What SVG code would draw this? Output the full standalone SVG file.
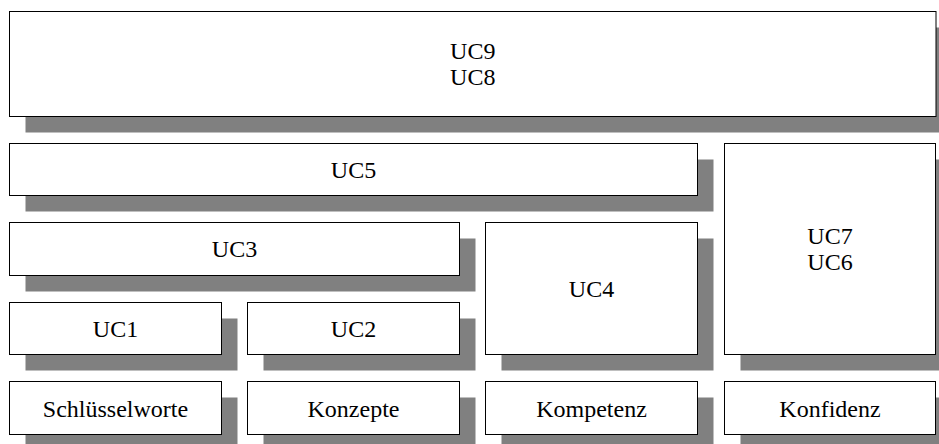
<svg xmlns="http://www.w3.org/2000/svg" width="939" height="444" viewBox="0 0 939 444">
<style>
.sh{fill:#808080;stroke:none}
.bx{fill:#ffffff;stroke:#000000;stroke-width:1}
.t{font-family:"Liberation Serif",Tinos,"Times New Roman",Times,"Nimbus Roman","Noto Serif","DejaVu Serif",serif;font-size:24px;fill:#000000;text-anchor:middle}
</style>
<rect width="939" height="444" fill="#ffffff"/>
<g id="shadows">
<rect class="sh" x="25.5" y="27.5" width="926.5" height="105"/>
<rect class="sh" x="25.5" y="159.5" width="688" height="52"/>
<rect class="sh" x="740.5" y="159.5" width="211" height="211"/>
<rect class="sh" x="25.5" y="238.5" width="450" height="53"/>
<rect class="sh" x="501.5" y="238.5" width="212" height="132"/>
<rect class="sh" x="25.5" y="318.5" width="212" height="52"/>
<rect class="sh" x="263.5" y="318.5" width="212" height="52"/>
<rect class="sh" x="25.5" y="397.5" width="212" height="53"/>
<rect class="sh" x="263.5" y="397.5" width="212" height="53"/>
<rect class="sh" x="501.5" y="397.5" width="212" height="53"/>
<rect class="sh" x="740.5" y="397.5" width="211" height="53"/>
</g>
<g id="uc98">
<rect class="bx" x="9.5" y="11.5" width="926.5" height="105"/>
<text class="t" x="472.75" y="59.3">UC9</text>
<text class="t" x="472.75" y="85">UC8</text>
</g>
<g id="uc5">
<rect class="bx" x="9.5" y="143.5" width="688" height="52"/>
<text class="t" x="353.5" y="177.8">UC5</text>
</g>
<g id="uc76">
<rect class="bx" x="724.5" y="143.5" width="211" height="211"/>
<text class="t" x="830" y="244.3">UC7</text>
<text class="t" x="830" y="270.2">UC6</text>
</g>
<g id="uc3">
<rect class="bx" x="9.5" y="222.5" width="450" height="53"/>
<text class="t" x="234.5" y="257.3">UC3</text>
</g>
<g id="uc4">
<rect class="bx" x="485.5" y="222.5" width="212" height="132"/>
<text class="t" x="591.5" y="297">UC4</text>
</g>
<g id="uc1">
<rect class="bx" x="9.5" y="302.5" width="212" height="52"/>
<text class="t" x="115.5" y="336.8">UC1</text>
</g>
<g id="uc2">
<rect class="bx" x="247.5" y="302.5" width="212" height="52"/>
<text class="t" x="353.5" y="336.8">UC2</text>
</g>
<g id="schluesselworte">
<rect class="bx" x="9.5" y="381.5" width="212" height="53"/>
<text class="t" x="115.5" y="416.5">Schlüsselworte</text>
</g>
<g id="konzepte">
<rect class="bx" x="247.5" y="381.5" width="212" height="53"/>
<text class="t" x="353.5" y="416.5">Konzepte</text>
</g>
<g id="kompetenz">
<rect class="bx" x="485.5" y="381.5" width="212" height="53"/>
<text class="t" x="591.5" y="416.5">Kompetenz</text>
</g>
<g id="konfidenz">
<rect class="bx" x="724.5" y="381.5" width="211" height="53"/>
<text class="t" x="830" y="416.5">Konfidenz</text>
</g>
<g id="connectors"/>
</svg>
